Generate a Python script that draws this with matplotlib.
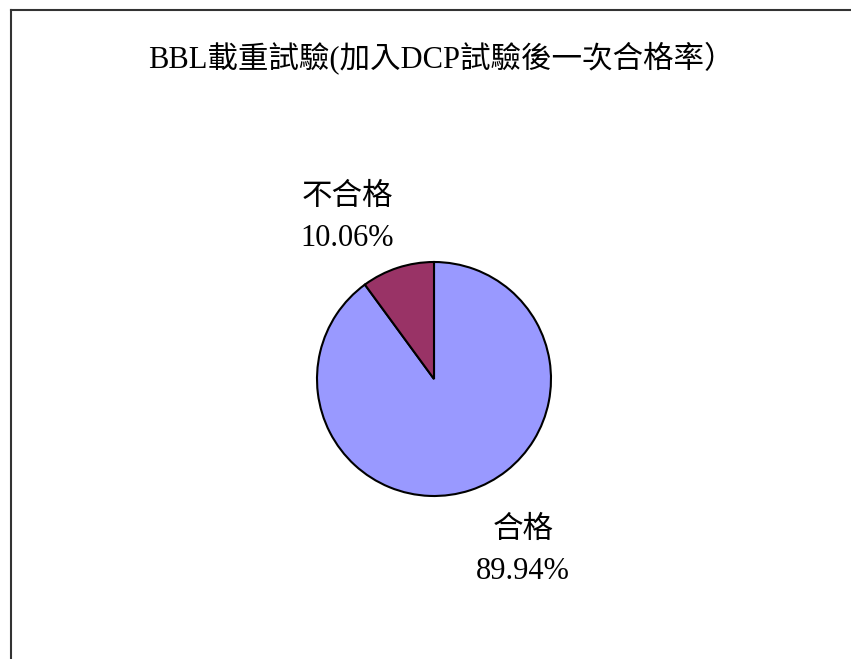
import matplotlib
matplotlib.use("Agg")
import matplotlib.pyplot as plt
from matplotlib.lines import Line2D

# pass / fail share of BBL load tests after adding DCP tests
labels = ["合格", "不合格"]
shares = [89.94, 10.06]
colors = ["#9999FF", "#993366"]
title = "BBL載重試驗(加入DCP試驗後一次合格率）"

FONT = ["Liberation Serif", "Noto Sans CJK TC"]
W, H, DPI = 851, 659, 100
cx, cy, r = 434, 379, 117  # pie centre / radius in pixels

fig = plt.figure(figsize=(W / DPI, H / DPI), dpi=DPI, facecolor="white")
ax = fig.add_axes([0, 0, 1, 1])

wedges, _ = ax.pie(shares, colors=colors, startangle=90, counterclock=False,
                   wedgeprops=dict(edgecolor="black", linewidth=1.5))

# map axes data units so one unit == pie radius in pixels
ax.set_xlim(-cx / r, (W - cx) / r)
ax.set_ylim(-(H - cy) / r, cy / r)
ax.set_aspect("auto")
ax.axis("off")

# data labels outside the slices: category on top, percentage below
label_pos = {"合格": (0.76, -1.47), "不合格": (-0.74, 1.38)}
half_gap = 20.5 / r
for name, val in zip(labels, shares):
    x, y = label_pos[name]
    ax.text(x, y + half_gap, name, ha="center", va="center",
            fontsize=22, family=FONT)
    ax.text(x, y - half_gap, f"{val:.2f}%", ha="center", va="center",
            fontsize=22, family=FONT)

fig.text(441 / W, 1 - 58 / H, title, ha="center", va="center",
         fontsize=22, family=FONT)

# chart-area border (left and top edges visible)
fig.add_artist(Line2D([11 / W, 11 / W], [0, 1 - 10 / H], transform=fig.transFigure,
                      color="#333333", linewidth=1.5))
fig.add_artist(Line2D([11 / W, 1], [1 - 10 / H, 1 - 10 / H], transform=fig.transFigure,
                      color="#333333", linewidth=1.5))

fig.savefig("out.png", dpi=DPI, facecolor="white")
